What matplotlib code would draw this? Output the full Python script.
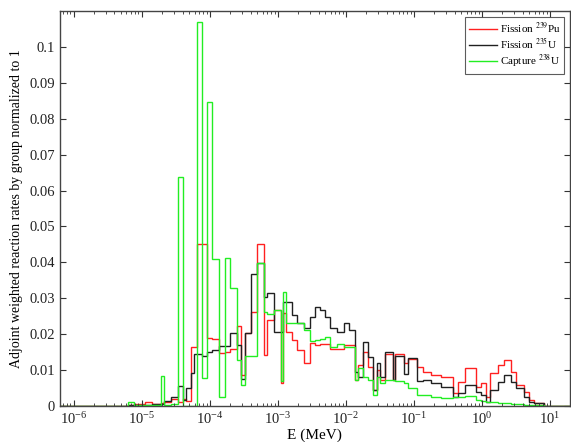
import numpy as np
import matplotlib
matplotlib.use('Agg')
import matplotlib.pyplot as plt
from matplotlib.ticker import LogLocator, FixedLocator, NullFormatter, LogFormatterSciNotation

# group boundaries (MeV)
edges = [6.32e-7, 6.24e-6, 7.64e-6, 1.106e-5, 1.40e-5, 1.96e-5, 2.17e-5, 2.75e-5, 3.47e-5,
         4.11e-5, 4.55e-5, 5.38e-5, 5.95e-5, 6.48e-5, 7.66e-5, 9.22e-5, 1.09e-4, 1.38e-4,
         1.69e-4, 2.00e-4, 2.53e-4, 2.87e-4, 3.32e-4, 4.06e-4, 5.02e-4, 6.28e-4, 7.02e-4,
         8.80e-4, 1.103e-3, 1.203e-3, 1.318e-3, 1.63e-3, 1.93e-3, 2.42e-3, 3.03e-3, 3.58e-3,
         4.24e-3, 5.02e-3, 5.93e-3, 7.41e-3, 9.29e-3, 1.099e-2, 1.377e-2, 1.538e-2, 1.82e-2,
         2.154e-2, 2.55e-2, 2.85e-2, 3.19e-2, 3.78e-2, 5.00e-2, 5.29e-2, 7.24e-2, 8.28e-2,
         0.1121, 0.1372, 0.1815, 0.254, 0.377, 0.446, 0.559, 0.826, 0.977, 1.156, 1.296,
         1.713, 2.147, 2.682, 3.173, 4.21, 4.98, 5.90, 8.26, 19.6]

# Capture 238U
capture_u238 = [0, .0012, .0002, .0003, .0002, .0083, .0003, .0005, .0637, 0, 0, 0, 0,
                .1068, .0078, .0847, .0410, .0026, .0412, .0330, .0128, .0058, .0139, .0139,
                .0398, .0262, .0255, .0267, .0070, .0318, .0231, .0231, .0230, .0211, .0181,
                .0183, .0188, .0193, .0165, .0174, .0165, .0165, .0072, .0105, .0081, .0072,
                .0030, .0081, .0063, .0072, .0072, .0070, .0065, .0050, .0030, .0030, .0026,
                .0022, .0024, .0026, .0027, .0017, .0015, .0012, .0011, .0009, .0008, .0007,
                .0006, .0004, .0003, .0002, .0001]

# Fission 235U
fission_u235 = [0, .0002, .0003, .0003, .0005, .0006, .0015, .0026, .0055, .0017, .0050, .0091,
                .0146, .0146, .0139, .0150, .0155, .0167, .0167, .0203, .0170, .0075, .0203,
                .0367, .0398, .0304, .0315, .0206, .0206, .0290, .0290, .0253, .0230, .0217,
                .0248, .0276, .0267, .0248, .0217, .0206, .0231, .0211, .0095, .0081, .0179,
                .0137, .0044, .0119, .0081, .0151, .0072, .0140, .0088, .0133, .0070, .0072,
                .0064, .0054, .0026, .0036, .0058, .0040, .0030, .0012, .0044, .0067, .0086,
                .0067, .0049, .0026, .0012, .0008, .0001]

# Fission 239Pu
fission_pu239 = [0, .0002, .0006, .0012, .0005, .0008, .0012, .0020, .0012, .0020, .0015, .0165,
                 .0165, .0450, .0450, .0189, .0186, .0147, .0151, .0160, .0222, .0086, .0203,
                 .0262, .0452, .0142, .0240, .0267, .0064, .0260, .0206, .0183, .0156, .0119,
                 .0176, .0170, .0172, .0174, .0158, .0158, .0170, .0170, .0072, .0114, .0151,
                 .0110, .0044, .0100, .0072, .0146, .0072, .0145, .0120, .0130, .0110, .0095,
                 .0086, .0081, .0036, .0067, .0105, .0054, .0064, .0026, .0091, .0114, .0128,
                 .0095, .0058, .0040, .0017, .0008, .0001]

xticks = [1e-6, 1e-5, 1e-4, 1e-3, 1e-2, 1e-1, 1e0, 1e1]
yticks = [0, 0.01, 0.02, 0.03, 0.04, 0.05, 0.06, 0.07, 0.08, 0.09, 0.1]
ytick_labels = ['0', '0.01', '0.02', '0.03', '0.04', '0.05', '0.06', '0.07', '0.08', '0.09', '0.1']

plt.rcParams['font.family'] = ['Liberation Serif', 'DejaVu Serif']
plt.rcParams['mathtext.fontset'] = 'stix'

fig = plt.figure(figsize=(5.71, 4.42), dpi=100)
ax = fig.add_axes([0.105, 0.0814, 0.893, 0.8937])

ax.stairs(fission_pu239, edges, color='#ff2020', linewidth=1.0, baseline=None, label='Fission $^{239}$Pu')
ax.stairs(fission_u235, edges, color='#202020', linewidth=1.0, baseline=None, label='Fission $^{235}$U')
ax.stairs(capture_u238, edges, color='#22ee22', linewidth=1.0, baseline=None, label='Capture $^{238}$U')

ax.set_xscale('log')
ax.set_xlim(6.32e-7, 19.6)
ax.set_ylim(0, 0.11)
ax.xaxis.set_major_locator(FixedLocator(xticks))
ax.xaxis.set_major_formatter(LogFormatterSciNotation())
ax.xaxis.set_minor_locator(LogLocator(base=10, subs=np.arange(2, 10), numticks=100))
ax.xaxis.set_minor_formatter(NullFormatter())
ax.yaxis.set_major_locator(FixedLocator(yticks))
ax.set_yticklabels(ytick_labels)

ax.tick_params(which='both', direction='in', top=True, right=True, colors='#333333', labelcolor='#222222')
ax.tick_params(which='major', length=4, labelsize=10.5)
ax.tick_params(which='minor', length=2)
for s in ax.spines.values():
    s.set_color('#444444')
    s.set_linewidth(1.0)

ax.set_xlabel('E (MeV)', fontsize=11, labelpad=1)
ax.set_ylabel('Adjoint weighted reaction rates by group normalized to 1', fontsize=10)
ax.yaxis.set_label_coords(-0.073, 0.5)

leg = ax.legend(loc='upper right', fontsize=8, frameon=True, fancybox=False, edgecolor='#333333',
                handlelength=2.6, borderpad=0.35, labelspacing=0.1, handletextpad=0.2,
                borderaxespad=0.5)
leg.get_frame().set_linewidth(0.8)

plt.savefig('out.png', dpi=100)
